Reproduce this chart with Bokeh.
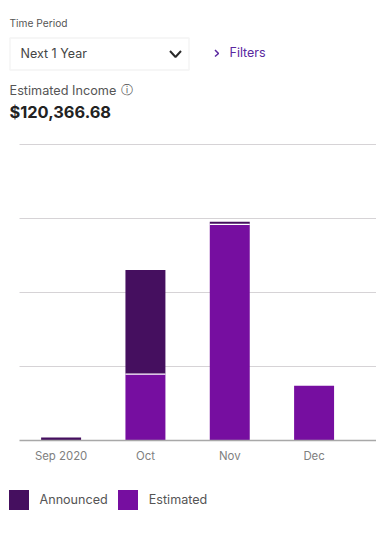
from bokeh.plotting import figure
from bokeh.models import (Range1d, FixedTicker, Label, BoxAnnotation, Legend, LegendItem)
from bokeh.embed import file_html
from bokeh.resources import INLINE

months = ["Sep 2020", "Oct", "Nov", "Dec"]
estimated = [0, 17950, 58400, 14800]
announced = [800, 28150, 700, 0]
y_ticks = [20000, 40000, 60000, 80000]
series_names = ["Announced", "Estimated"]
DARK, PURPLE = "#450F5F", "#760EA0"

xs = list(range(len(months)))
W = 376
H = 556
# Pixel geometry of the plot inside the full-bleed frame
PX_PER_MONTH = 84.33
PX_PER_UNIT = 296 / 80000
X0_PX, Y0_PX = 60.6, 440
x_start = -X0_PX / PX_PER_MONTH
x_end = (W - X0_PX) / PX_PER_MONTH
y_start = -(H - Y0_PX) / PX_PER_UNIT
y_end = Y0_PX / PX_PER_UNIT
GRID_LEFT = (19 - X0_PX) / PX_PER_MONTH

def dx(px):
    return (px - X0_PX) / PX_PER_MONTH

def dy(py):
    return (Y0_PX - py) / PX_PER_UNIT

p = figure(width=W, height=H, output_backend="svg", toolbar_location=None,
           x_range=Range1d(x_start, x_end), y_range=Range1d(y_start, y_end),
           min_border=0, tools="", background_fill_color="#ffffff", border_fill_color="#ffffff")
p.outline_line_color = None
p.yaxis.visible = False
p.xgrid.visible = False
p.ygrid.visible = False

p.segment(x0=[GRID_LEFT] * len(y_ticks), x1=[x_end] * len(y_ticks), y0=y_ticks, y1=y_ticks,
          line_color="#d6d3d6", line_width=1)

ax = p.xaxis[0]
ax.fixed_location = 0
ax.bounds = (GRID_LEFT, x_end)
ax.ticker = FixedTicker(ticks=xs)
ax.major_label_overrides = {i: m for i, m in enumerate(months)}
ax.axis_line_color = "#a8a8a8"
ax.axis_line_width = 1.5
ax.major_tick_line_color = None
ax.minor_tick_line_color = None
ax.major_label_text_color = "#808080"
ax.major_label_text_font = "Inter"
ax.major_label_text_font_size = "11.4px"
ax.major_label_standoff = 2

BW = 0.474
r_est = p.vbar(x=xs, bottom=[0] * 4, top=estimated, width=BW, fill_color=PURPLE, line_color=None)
tops = [a + e for a, e in zip(announced, estimated)]
r_ann = p.vbar(x=xs, bottom=estimated, top=tops, width=BW, fill_color=DARK, line_color=None)
both = [i for i in xs if estimated[i] > 0 and announced[i] > 0]
p.segment(x0=[i - BW / 2 for i in both], x1=[i + BW / 2 for i in both],
          y0=[estimated[i] for i in both], y1=[estimated[i] for i in both],
          line_color="#ffffff", line_width=1.2)

legend = Legend(items=[LegendItem(label=series_names[0], renderers=[r_ann]),
                       LegendItem(label=series_names[1], renderers=[r_est])],
                orientation="horizontal", location=(5.5, H - 511.5),
                glyph_width=25, glyph_height=25, label_standoff=9, spacing=7,
                padding=0, margin=0, border_line_color=None, background_fill_alpha=0,
                label_text_font="Inter", label_text_font_size="12.6px", label_text_color="#555555")
p.add_layout(legend, "center")

def sy(y):
    return H - y

def label(text, x, y, size, color, font="Inter", style="normal"):
    # Label places its text about 0.42em below the requested baseline
    p.add_layout(Label(x=x, y=sy(y - 0.42 * size), x_units="screen", y_units="screen", text=text,
                       text_font=font, text_font_size=f"{size}px", text_color=color,
                       text_font_style=style, text_baseline="alphabetic"))

p.add_layout(BoxAnnotation(left=9.5, right=188.5, top=sy(37.5), bottom=sy(69.5),
                           left_units="screen", right_units="screen", top_units="screen", bottom_units="screen",
                           fill_alpha=0, line_color="#dcdcdc", line_width=1.5))
label("Time Period", 9, 27, 10.2, "#555555")
label("Next 1 Year", 20, 58.7, 12.5, "#444444")
label("Filters", 229, 57.7, 12.5, "#5A28A0")
label("Estimated Income", 9, 95, 12.7, "#555555")
label("\u24d8", 120, 95, 12, "#555555", font="DejaVu Sans")
label("$120,366.68", 9, 118, 16.4, "#222222", style="bold")

p.multi_line(xs=[[dx(169.5), dx(175), dx(180.5)], [dx(214.5), dx(218), dx(214.5)]],
             ys=[[dy(50.5), dy(56.5), dy(50.5)], [dy(49.5), dy(53), dy(56)]],
             line_color=["#2a2a2a", "#5A28A0"], line_width=[2, 1.5])

open("out.html", "w").write(file_html(p, INLINE))
